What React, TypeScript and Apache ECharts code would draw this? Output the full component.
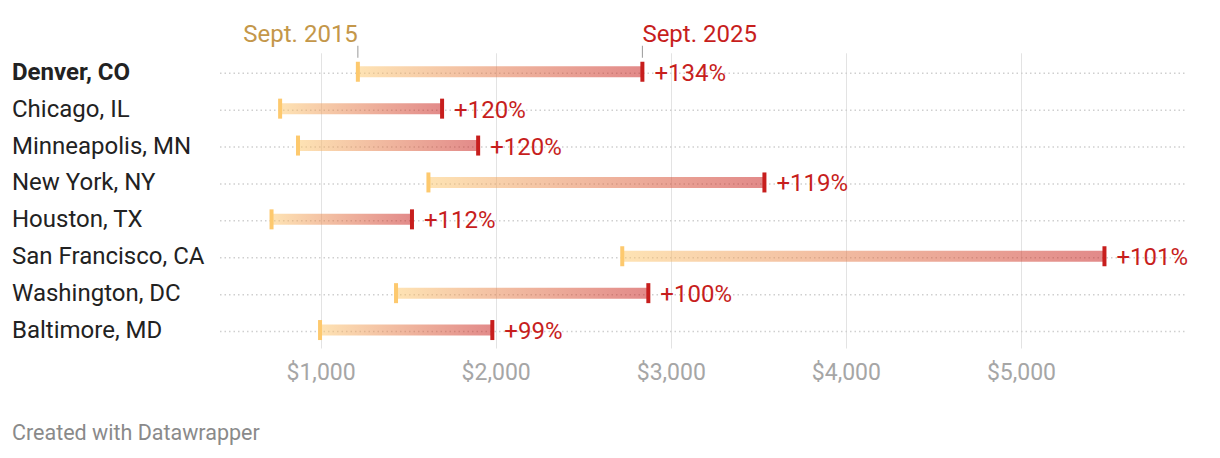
import React, { useEffect, useRef } from "react";
import * as echarts from "echarts";

const cities = [
  "Denver, CO",
  "Chicago, IL",
  "Minneapolis, MN",
  "New York, NY",
  "Houston, TX",
  "San Francisco, CA",
  "Washington, DC",
  "Baltimore, MD",
];
const rent2015 = [1210, 766, 868, 1613, 717, 2720, 1428, 994];
const rent2025 = [2835, 1691, 1897, 3532, 1519, 5474, 2869, 1978];
const changeLabels = ["+134%", "+120%", "+120%", "+119%", "+112%", "+101%", "+100%", "+99%"];
const startLabel = "Sept. 2015";
const endLabel = "Sept. 2025";
const footer = "Created with Datawrapper";

const FONT = "Roboto, 'Noto Sans', sans-serif";
const RED = "#c71e1d";
const ORANGE = "#fdc96e";
const GOLD = "#c4974a";

export default function App() {
  const ref = useRef<HTMLDivElement>(null);

  useEffect(() => {
    document.body.style.margin = "0";
    if (!ref.current) return;
    const chart = echarts.init(ref.current, null, { renderer: "svg" });

    const data = cities.map((_, i) => [rent2015[i], rent2025[i], i]);

    const option: any = {
      animation: false,
      grid: { left: 146, right: 35, top: 53.3, height: 295.2, containLabel: false },
      xAxis: {
        type: "value",
        min: 0,
        max: 5934,
        interval: 1000,
        axisLine: { show: false },
        axisTick: { show: false },
        splitLine: {
          show: true,
          showMinLine: false,
          showMaxLine: false,
          lineStyle: { color: "#e3e3e3", width: 1 },
        },
        axisLabel: {
          color: "#a6a6a6",
          fontSize: 23,
          fontFamily: FONT,
          margin: 12,
          showMinLabel: false,
          showMaxLabel: false,
          formatter: (v: number) =>
            v === 0 || v % 1000 !== 0 ? "" : "$" + v.toLocaleString("en-US"),
        },
      },
      yAxis: {
        type: "category",
        data: cities,
        inverse: true,
        axisLine: { show: false },
        axisTick: { show: false },
        splitLine: { show: false },
        axisLabel: {
          align: "left",
          margin: 134,
          fontSize: 24,
          color: "#222",
          fontFamily: FONT,
          formatter: (v: string, idx: number) => (idx === 0 ? `{b|${v}}` : v),
          rich: {
            b: { fontWeight: "bold", fontSize: 24, color: "#222", fontFamily: FONT },
          },
        },
      },
      series: [
        {
          type: "custom",
          data,
          encode: { x: [0, 1], y: 2 },
          renderItem: (params: any, api: any) => {
            const i = api.value(2);
            const s = api.coord([api.value(0), i]);
            const e = api.coord([api.value(1), i]);
            const cy = s[1];
            const cs = params.coordSys;
            const children: any[] = [
              {
                type: "line",
                shape: { x1: 220, y1: cy + 1.5, x2: cs.x + cs.width, y2: cy + 1.5 },
                style: { stroke: "#cfcfcf", lineWidth: 1.5, lineDash: [1.5, 3] },
              },
              {
                type: "rect",
                shape: { x: s[0], y: cy - 5.5, width: e[0] - s[0], height: 11 },
                style: {
                  opacity: 0.52,
                  fill: new echarts.graphic.LinearGradient(0, 0, 1, 0, [
                    { offset: 0, color: ORANGE },
                    { offset: 1, color: RED },
                  ]),
                },
              },
              {
                type: "rect",
                shape: { x: s[0] - 2, y: cy - 10, width: 4, height: 20 },
                style: { fill: ORANGE },
              },
              {
                type: "rect",
                shape: { x: e[0] - 2, y: cy - 10, width: 4, height: 20 },
                style: { fill: RED },
              },
              {
                type: "text",
                x: e[0] + 12,
                y: cy + 1,
                style: {
                  text: changeLabels[i],
                  fill: RED,
                  fontSize: 24,
                  fontFamily: FONT,
                  align: "left",
                  verticalAlign: "middle",
                },
              },
            ];
            if (i === 0) {
              children.push(
                {
                  type: "line",
                  shape: { x1: s[0], y1: cy - 26, x2: s[0], y2: cy - 14 },
                  style: { stroke: "#999", lineWidth: 1 },
                },
                {
                  type: "line",
                  shape: { x1: e[0], y1: cy - 26, x2: e[0], y2: cy - 14 },
                  style: { stroke: "#999", lineWidth: 1 },
                },
                {
                  type: "text",
                  x: s[0],
                  y: cy - 38,
                  style: {
                    text: startLabel,
                    fill: GOLD,
                    fontSize: 24,
                    fontFamily: FONT,
                    align: "right",
                    verticalAlign: "middle",
                  },
                },
                {
                  type: "text",
                  x: e[0],
                  y: cy - 38,
                  style: {
                    text: endLabel,
                    fill: RED,
                    fontSize: 24,
                    fontFamily: FONT,
                    align: "left",
                    verticalAlign: "middle",
                  },
                }
              );
            }
            return { type: "group", children };
          },
        },
      ],
      graphic: [
        {
          type: "text",
          left: 12,
          top: 421,
          style: { text: footer, fill: "#8a8a8a", fontSize: 21.5, fontFamily: FONT },
        },
      ],
    };

    chart.setOption(option);
    return () => chart.dispose();
  }, []);

  return <div ref={ref} style={{ width: 1220, height: 458 }} />;
}
